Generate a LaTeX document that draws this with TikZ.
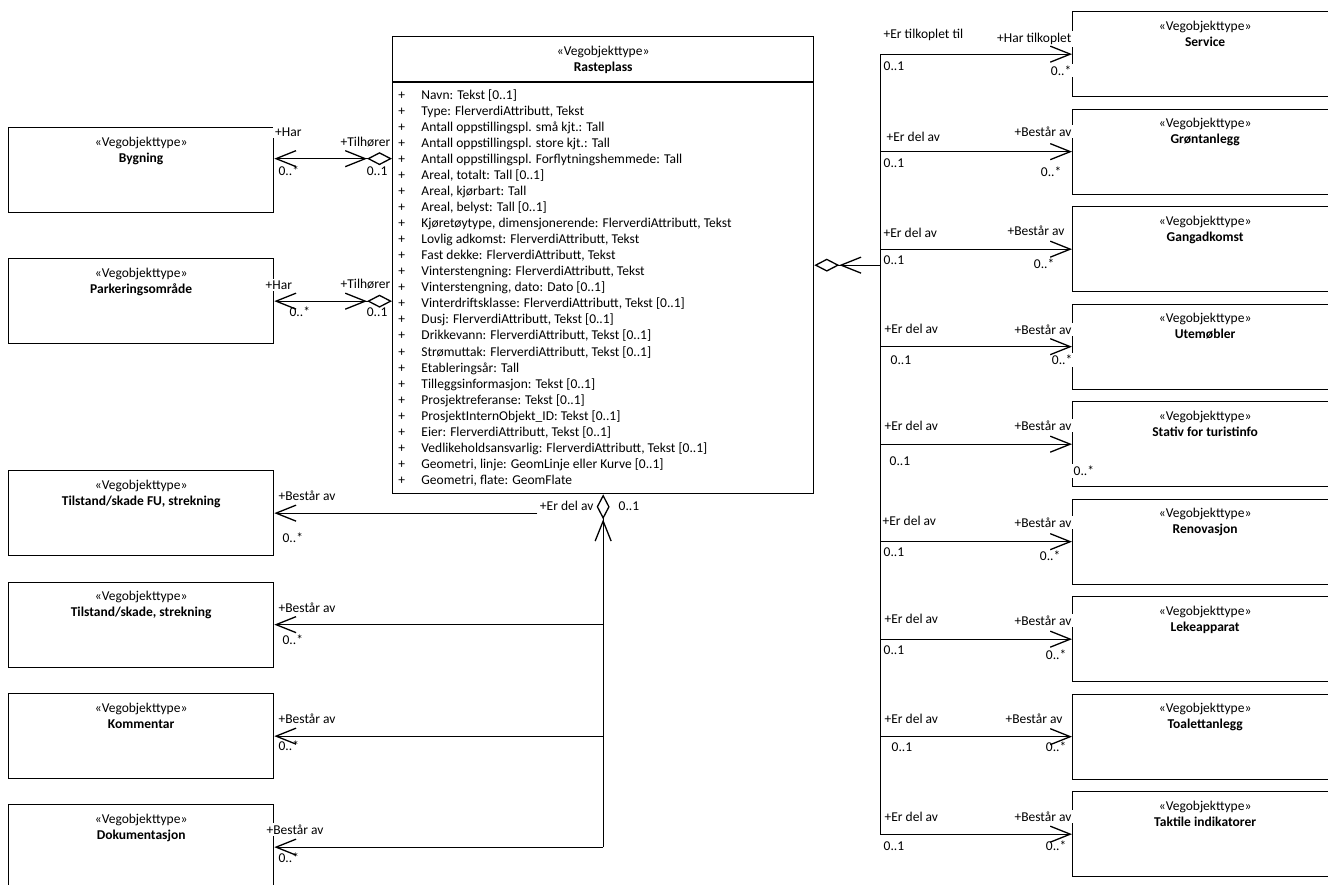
\documentclass[tikz,border=0pt]{standalone}
\usepackage{fontspec}
\setmainfont{Carlito}
\usetikzlibrary{arrows.meta,positioning,calc}

\begin{document}
\begin{tikzpicture}[x=1pt, y=-1pt, line width=1.3pt,
    font=\fontsize{13.5}{16.04}\selectfont,
    pil/.tip={Straight Barb[length=20pt, width=16pt]},
    rute/.tip={Diamond[open, length=25pt, width=13pt]},
    klasse/.style={draw, rectangle, inner sep=0pt, anchor=north west,
      minimum width=265pt, minimum height=85pt,
      label={[align=center, inner sep=0pt, anchor=north, yshift=-9pt]north:{«Vegobjekttype»\\\textbf{#1}}}},
    rolle/.style={fill=white, inner sep=2pt}]
  \useasboundingbox (0,0) rectangle (1328,884);
  \clip (0,0) rectangle (1328,884);

  % Rasteplass
  \node[draw, inner sep=0pt, anchor=north west, minimum width=421pt, minimum height=457pt] (rasteplass) at (392,36) {};
  \node[align=center, inner sep=0pt, anchor=north] (rp-tittel) at ([yshift=-9pt]rasteplass.north) {«Vegobjekttype»\\\textbf{Rasteplass}};
  \draw (rasteplass.north west) ++(0,46) -- ++(421,0);
  \node[inner sep=0pt, anchor=north west] (rp-attr) at (397.6,87.5) {\begin{tabular}{@{}l@{\hspace{16.5pt}}l@{}}
    + & Navn: Tekst [0..1]\\
    + & Type: FlerverdiAttributt, Tekst\\
    + & Antall oppstillingspl. små kjt.: Tall\\
    + & Antall oppstillingspl. store kjt.: Tall\\
    + & Antall oppstillingspl. Forflytningshemmede: Tall\\
    + & Areal, totalt: Tall [0..1]\\
    + & Areal, kjørbart: Tall\\
    + & Areal, belyst: Tall [0..1]\\
    + & Kjøretøytype, dimensjonerende: FlerverdiAttributt, Tekst\\
    + & Lovlig adkomst: FlerverdiAttributt, Tekst\\
    + & Fast dekke: FlerverdiAttributt, Tekst\\
    + & Vinterstengning: FlerverdiAttributt, Tekst\\
    + & Vinterstengning, dato: Dato [0..1]\\
    + & Vinterdriftsklasse: FlerverdiAttributt, Tekst [0..1]\\
    + & Dusj: FlerverdiAttributt, Tekst [0..1]\\
    + & Drikkevann: FlerverdiAttributt, Tekst [0..1]\\
    + & Strømuttak: FlerverdiAttributt, Tekst [0..1]\\
    + & Etableringsår: Tall\\
    + & Tilleggsinformasjon: Tekst [0..1]\\
    + & Prosjektreferanse: Tekst [0..1]\\
    + & ProsjektInternObjekt\_ID: Tekst [0..1]\\
    + & Eier: FlerverdiAttributt, Tekst [0..1]\\
    + & Vedlikeholdsansvarlig: FlerverdiAttributt, Tekst [0..1]\\
    + & Geometri, linje: GeomLinje eller Kurve [0..1]\\
    + & Geometri, flate: GeomFlate
  \end{tabular}};

  % venstre side
  \node[klasse=Bygning] (bygning) at (8,127) {};
  \node[klasse=Parkeringsområde] (parkering) at (8,258) {};
  \node[klasse={Tilstand/skade FU, strekning}] (tilstandfu) at (8,470) {};
  \node[klasse={Tilstand/skade, strekning}] (tilstand) at (8,581.5) {};
  \node[klasse=Kommentar] (kommentar) at (8,693) {};
  \node[klasse=Dokumentasjon] (dokumentasjon) at (8,804) {};

  % hoyre side
  \node[klasse=Service] (service) at (1072,11) {};
  \node[klasse=Grøntanlegg] (grontanlegg) at (1072,108.5) {};
  \node[klasse=Gangadkomst] (gangadkomst) at (1072,206) {};
  \node[klasse=Utemøbler] (utemobler) at (1072,303.5) {};
  \node[klasse=Stativ for turistinfo] (stativ) at (1072,401) {};
  \node[klasse=Renovasjon] (renovasjon) at (1072,498.5) {};
  \node[klasse=Lekeapparat] (lekeapparat) at (1072,596) {};
  \node[klasse=Toalettanlegg] (toalett) at (1072,693.5) {};
  \node[klasse=Taktile indikatorer] (taktile) at (1072,791) {};

  % roller, venstre
  \node[rolle, anchor=mid west] (byg-har) at (272.5,134) {+Har};
  \node[rolle, anchor=mid west] (byg-n) at (276,173) {0..*};
  \node[rolle, anchor=mid east] (byg-tilh) at (393,144) {+Tilhører};
  \node[rolle, anchor=mid east] (byg-1) at (390,173) {0..1};
  \node[rolle, anchor=mid west] (park-har) at (263,287) {+Har};
  \node[rolle, anchor=mid west] (park-n) at (287,314) {0..*};
  \node[rolle, anchor=mid east] (park-tilh) at (393,286) {+Tilhører};
  \node[rolle, anchor=mid east] (park-1) at (390,314) {0..1};

  \node[rolle, anchor=mid east] (rp-erdel) at (596,508) {+Er del av};
  \node[rolle, anchor=mid west] (rp-1) at (616,508) {0..1};
  \node[rolle, anchor=mid west] (tfu-best) at (276,498) {+Består av};
  \node[rolle, anchor=mid west] (tfu-n) at (280,540) {0..*};
  \node[rolle, anchor=mid west] (ts-best) at (276,610) {+Består av};
  \node[rolle, anchor=mid west] (ts-n) at (280,642) {0..*};
  \node[rolle, anchor=mid west] (kom-best) at (276,721) {+Består av};
  \node[rolle, anchor=mid west] (kom-n) at (276,748) {0..*};
  \node[rolle, anchor=mid west] (dok-best) at (264,832) {+Består av};
  \node[rolle, anchor=mid west] (dok-n) at (276,860) {0..*};

  % roller, hoyre
  \node[rolle, anchor=mid west] (ser-a) at (881,36) {+Er tilkoplet til};
  \node[rolle, anchor=mid west] (ser-1) at (881,68) {0..1};
  \node[rolle, anchor=mid east] (ser-b) at (1074,40) {+Har tilkoplet};
  \node[rolle, anchor=mid east] (ser-n) at (1074,73) {0..*};
  \node[rolle, anchor=mid west] (gro-a) at (884,139) {+Er del av};
  \node[rolle, anchor=mid west] (gro-1) at (881,165) {0..1};
  \node[rolle, anchor=mid east] (gro-b) at (1074,134) {+Består av};
  \node[rolle, anchor=mid east] (gro-n) at (1064,174) {0..*};
  \node[rolle, anchor=mid west] (gan-a) at (881,235) {+Er del av};
  \node[rolle, anchor=mid west] (gan-1) at (881,262) {0..1};
  \node[rolle, anchor=mid east] (gan-b) at (1067,233) {+Består av};
  \node[rolle, anchor=mid east] (gan-n) at (1057,266) {0..*};
  \node[rolle, anchor=mid west] (ute-a) at (882,331) {+Er del av};
  \node[rolle, anchor=mid west] (ute-1) at (888,362) {0..1};
  \node[rolle, anchor=mid east] (ute-b) at (1074,332) {+Består av};
  \node[rolle, anchor=mid east] (ute-n) at (1075,362) {0..*};
  \node[rolle, anchor=mid west] (sta-a) at (882,428) {+Er del av};
  \node[rolle, anchor=mid west] (sta-1) at (887,463) {0..1};
  \node[rolle, anchor=mid east] (sta-b) at (1074,428) {+Består av};
  \node[rolle, anchor=mid west] (sta-n) at (1071,473) {0..*};
  \node[rolle, anchor=mid west] (ren-a) at (880,523) {+Er del av};
  \node[rolle, anchor=mid west] (ren-1) at (881,554) {0..1};
  \node[rolle, anchor=mid east] (ren-b) at (1074,525) {+Består av};
  \node[rolle, anchor=mid east] (ren-n) at (1063,558) {0..*};
  \node[rolle, anchor=mid west] (lek-a) at (882,621) {+Er del av};
  \node[rolle, anchor=mid west] (lek-1) at (881,652) {0..1};
  \node[rolle, anchor=mid east] (lek-b) at (1074,623) {+Består av};
  \node[rolle, anchor=mid east] (lek-n) at (1069,657) {0..*};
  \node[rolle, anchor=mid west] (toa-a) at (882,721) {+Er del av};
  \node[rolle, anchor=mid west] (toa-1) at (889,749) {0..1};
  \node[rolle, anchor=mid east] (toa-b) at (1065,721) {+Består av};
  \node[rolle, anchor=mid east] (toa-n) at (1069,749) {0..*};
  \node[rolle, anchor=mid west] (tak-a) at (882,819) {+Er del av};
  \node[rolle, anchor=mid west] (tak-1) at (881,848) {0..1};
  \node[rolle, anchor=mid east] (tak-b) at (1074,819) {+Består av};
  \node[rolle, anchor=mid east] (tak-n) at (1069,848) {0..*};

  % assosiasjoner
  \draw[{pil[]}-{pil[] rute[]}] ([yshift=11.5pt]bygning.east) -- ([yshift=11.5pt]bygning.east -| rasteplass.west);
  \draw[{pil[]}-{pil[] rute[]}] (parkering.east) -- (parkering.east -| rasteplass.west);

  \coordinate[right=66pt of rasteplass.east] (stamme);
  \draw[{rute[] pil[]}-] (rasteplass.east) -- (stamme);
  \draw (stamme |- service.west) -- (stamme |- taktile.west);
  \draw[-{pil[]}] (stamme |- service.west) -- (service.west);
  \draw[-{pil[]}] (stamme |- grontanlegg.west) -- (grontanlegg.west);
  \draw[-{pil[]}] (stamme |- gangadkomst.west) -- (gangadkomst.west);
  \draw[-{pil[]}] (stamme |- utemobler.west) -- (utemobler.west);
  \draw[-{pil[]}] (stamme |- stativ.west) -- (stativ.west);
  \draw[-{pil[]}] (stamme |- renovasjon.west) -- (renovasjon.west);
  \draw[-{pil[]}] (stamme |- lekeapparat.west) -- (lekeapparat.west);
  \draw[-{pil[]}] (stamme |- toalett.west) -- (toalett.west);
  \draw[-{pil[]}] (stamme |- taktile.west) -- (taktile.west);

  \draw[{rute[] pil[]}-] (rasteplass.south) -- (rasteplass.south |- dokumentasjon.east);
  \draw[-{pil[]}] (rp-erdel.west |- tilstandfu.east) -- (tilstandfu.east);
  \draw[-{pil[]}] (rasteplass.south |- tilstand.east) -- (tilstand.east);
  \draw[-{pil[]}] (rasteplass.south |- kommentar.east) -- (kommentar.east);
  \draw[-{pil[]}] (rasteplass.south |- dokumentasjon.east) -- (dokumentasjon.east);
\end{tikzpicture}
\end{document}
